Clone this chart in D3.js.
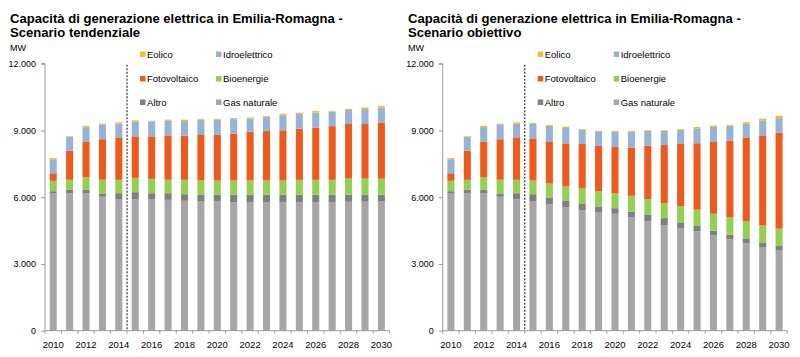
<!DOCTYPE html>
<html><head><meta charset="utf-8">
<script src="https://cdn.jsdelivr.net/npm/d3@7"></script>
<style>body{margin:0;background:#fff}svg{display:block;font-family:"Liberation Sans",Arial,sans-serif}</style>
</head><body><svg id="c" width="800" height="357"></svg>
<script>
const years = d3.range(2010, 2031).map(String);
const seriesNames = ["Gas naturale","Altro","Bioenergie","Fotovoltaico","Idroelettrico","Eolico"];
const colors = ["#A6A6A6","#7F7F7F","#92D050","#EE5A1E","#95B3D7","#F8B92E"];
const yTicks = [0,3000,6000,9000,12000];
const yTickLabels = ["0","3.000","6.000","9.000","12.000"];
const xTickLabels = ["2010","2012","2014","2016","2018","2020","2022","2024","2026","2028","2030"];
const titleLine1 = "Capacità di generazione elettrica in Emilia-Romagna -";
const unitLabel = "MW";

// Scenario tendenziale
const tGas   = [6180,6180,6180,6020,5900,5900,5900,5885,5840,5810,5810,5780,5780,5780,5780,5780,5780,5780,5795,5800,5810];
const tAltro = [90,150,165,150,280,325,280,295,295,310,300,330,330,330,340,340,340,340,325,320,305];
const tBio   = [465,450,550,615,600,645,645,600,645,630,640,640,640,640,630,660,660,660,720,720,715];
const tFV    = [340,1310,1610,1820,1910,1865,1910,2000,1985,2045,2060,2105,2195,2240,2255,2295,2340,2415,2450,2450,2530];
const tIdro  = [630,625,645,670,615,660,670,660,660,685,670,655,580,610,670,660,685,655,630,670,670];
const tEol   = [60,30,60,30,60,60,35,45,60,45,45,45,60,45,75,60,75,30,45,70,75];

// Scenario obiettivo
const oGas   = [6180,6180,6180,6020,5900,5810,5675,5540,5420,5330,5255,5105,4925,4745,4615,4465,4285,4105,3925,3760,3600];
const oAltro = [90,150,165,150,280,325,315,315,300,255,250,240,300,315,255,240,210,210,225,180,205];
const oBio   = [465,450,550,615,600,615,625,625,670,685,670,715,685,670,715,735,760,775,760,795,780];
const oFV    = [340,1310,1610,1820,1910,1895,1895,1940,2000,2035,2080,2175,2405,2615,2805,2985,3225,3460,3775,4045,4310];
const oIdro  = [630,625,645,670,615,645,690,690,625,655,685,705,670,640,625,670,685,670,615,675,660];
const oEol   = [60,30,60,30,60,45,45,60,45,30,45,45,30,30,45,60,60,30,75,75,105];

const svg = d3.select("#c");

function drawChart(ox, axisX, subtitle, vals) {
  const g = svg.append("g");
  const x0 = axisX, x1 = axisX + 344.6;
  const x = d3.scaleBand().domain(years).range([x0, x1]).paddingInner(0.57).paddingOuter(0.285);
  const y = d3.scaleLinear().domain([0, 12000]).range([330.7, 63.7]);

  // title
  const t1 = g.append("text").attr("x", ox).attr("y", 23).attr("font-weight", "bold").attr("font-size", 13).text(titleLine1);
  const w = t1.node().getComputedTextLength();
  const fs = 13 * 333 / w;
  t1.attr("font-size", fs);
  g.append("text").attr("x", ox).attr("y", 37).attr("font-weight", "bold").attr("font-size", fs).text(subtitle);
  g.append("text").attr("x", ox).attr("y", 51).attr("font-size", 9).text(unitLabel);

  // stacked bars
  const rows = years.map((yr, i) => {
    const o = {year: yr};
    seriesNames.forEach((s, k) => o[s] = vals[k][i]);
    return o;
  });
  const stacked = d3.stack().keys(seriesNames)(rows);
  stacked.forEach((layer, k) => {
    g.append("g").attr("fill", colors[k]).selectAll("rect").data(layer).join("rect")
      .attr("x", d => x(d.data.year)).attr("width", x.bandwidth())
      .attr("y", d => y(d[1])).attr("height", d => y(d[0]) - y(d[1]));
  });

  // y axis
  const ya = d3.axisLeft(y).tickValues(yTicks).tickFormat((d, i) => yTickLabels[i]).tickSize(4).tickPadding(5);
  const yg = g.append("g").attr("transform", `translate(${x0},0)`).call(ya);
  yg.select(".domain").attr("stroke", "#9a9a9a").attr("d", `M-4,${y(12000)}H0V${y(0)}`);
  yg.selectAll(".tick line").attr("stroke", "#9a9a9a");
  yg.selectAll("text").attr("font-size", 9).attr("font-family", "Liberation Sans, Arial, sans-serif").attr("fill", "#000");

  // x axis
  const xg = g.append("g").attr("transform", `translate(0,${y(0)})`);
  xg.append("line").attr("x1", x0).attr("x2", x1).attr("stroke", "#9a9a9a");
  const edges = years.map(yr => x(yr) - x.step() * x.paddingInner() / 2).concat([x1]);
  xg.selectAll("line.tk").data(edges).join("line").attr("class", "tk")
    .attr("x1", d => d).attr("x2", d => d).attr("y1", 0).attr("y2", 3).attr("stroke", "#9a9a9a");
  xg.selectAll("text").data(xTickLabels).join("text")
    .attr("x", d => x(d) + x.bandwidth() / 2).attr("y", 17).attr("text-anchor", "middle")
    .attr("font-size", 9.5).text(d => d);

  // dashed separator between 2014 and 2015
  const sx = (x("2014") + x("2015")) / 2 + x.bandwidth() / 2;
  g.append("line").attr("x1", sx).attr("x2", sx).attr("y1", y(12000) + 1).attr("y2", y(0))
    .attr("stroke", "#333").attr("stroke-width", 1.2).attr("stroke-dasharray", "2,1.5");

  // legend
  const legOrder = [[5, 0, 0], [4, 1, 0], [3, 0, 1], [2, 1, 1], [1, 0, 2], [0, 1, 2]];
  const lx = [axisX + 95, axisX + 171];
  const ly = [54.5, 79, 102.5];
  legOrder.forEach(([k, c, r]) => {
    g.append("rect").attr("x", lx[c]).attr("y", ly[r] - 3).attr("width", 5.5).attr("height", 5.5).attr("fill", colors[k]);
    g.append("text").attr("x", lx[c] + 7).attr("y", ly[r]).attr("dy", "0.35em").attr("font-size", 9.5).text(seriesNames[k]);
  });
}

drawChart(10, 45, "Scenario tendenziale", [tGas, tAltro, tBio, tFV, tIdro, tEol]);
drawChart(408, 442.7, "Scenario obiettivo", [oGas, oAltro, oBio, oFV, oIdro, oEol]);
</script></body></html>
